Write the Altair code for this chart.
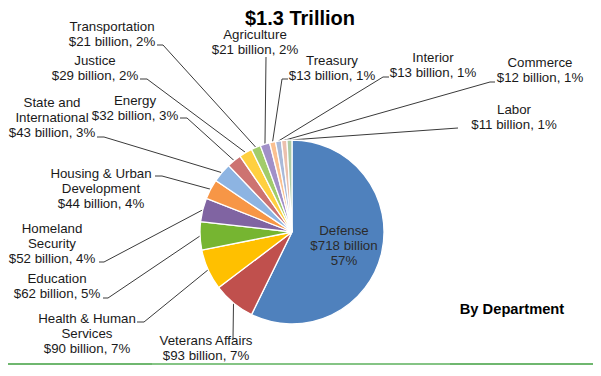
import math
import altair as alt
import pandas as pd

# ---------------- data ----------------
departments = ["Defense", "Veterans Affairs", "Health & Human Services", "Education",
               "Homeland Security", "Housing & Urban Development", "State and International",
               "Energy", "Justice", "Transportation", "Agriculture", "Treasury", "Interior",
               "Commerce", "Labor"]
spending_billion = [718, 93, 90, 62, 52, 44, 43, 32, 29, 21, 21, 13, 13, 12, 11]
share_percent = [57, 7, 7, 5, 4, 4, 3, 3, 2, 2, 2, 1, 1, 1, 1]
label_lines = [
    ["Defense", "$718 billion", "57%"],
    ["Veterans Affairs", "$93 billion, 7%"],
    ["Health & Human", "Services", "$90 billion, 7%"],
    ["Education", "$62 billion, 5%"],
    ["Homeland", "Security", "$52 billion, 4%"],
    ["Housing & Urban", "Development", "$44 billion, 4%"],
    ["State and", "International", "$43 billion, 3%"],
    ["Energy", "$32 billion, 3%"],
    ["Justice", "$29 billion, 2%"],
    ["Transportation", "$21 billion, 2%"],
    ["Agriculture", "$21 billion, 2%"],
    ["Treasury", "$13 billion, 1%"],
    ["Interior", "$13 billion, 1%"],
    ["Commerce", "$12 billion, 1%"],
    ["Labor", "$11 billion, 1%"],
]
slice_colors = ["#4F81BD", "#C0504D", "#FFC000", "#76B531", "#8064A2", "#F79646",
                "#8DB4E2", "#CD7371", "#FFD040", "#A2CC6A", "#A190C8", "#FAC090",
                "#A9B9D9", "#EBC0AE", "#ADCBA4"]
title_text = "$1.3 Trillion"
subtitle_text = "By Department"

# ---------------- layout (page pixels) ----------------
W, H = 585, 360
OFF = 8
CX, CY, R = 292, 232, 92
label_cx = [344, 206, 87, 57, 52, 101, 52, 135, 95, 112, 255, 332, 433, 540, 514]
label_y0 = [235, 345, 323, 283, 233, 178, 107, 105, 65, 31, 39, 65, 62, 67, 114]
line_gap = 14.8
leader_start = [
    [],
    [(233, 339)],
    [(137, 322), (144, 322)],
    [(103, 298), (108, 298)],
    [(99, 262), (104, 262)],
    [(155, 176), (162, 176)],
    [(97, 137), (104, 137)],
    [(180, 118), (187, 118)],
    [(140, 79), (147, 79)],
    [(157, 45), (163, 45)],
    [(266, 57)],
    [(288, 79), (282, 79)],
    [(389, 77), (383, 77)],
    [(495, 82), (490, 82)],
    [(458, 128)],
]

# ---------------- tables ----------------
pie_df = pd.DataFrame({"dept": departments, "value": spending_billion,
                       "idx": list(range(len(departments)))})

total = sum(spending_billion)
text_rows, line_rows = [], []
cum = 0
for i, d in enumerate(departments):
    mid = (cum + spending_billion[i] / 2) / total * 2 * math.pi
    cum += spending_billion[i]
    for k, t in enumerate(label_lines[i]):
        text_rows.append({"text": t, "x": label_cx[i], "y": label_y0[i] + k * line_gap,
                          "c": "#2b2b2b" if i == 0 else "#1a1a1a"})
    pts = leader_start[i]
    if pts:
        ex = CX + R * math.sin(mid)
        ey = CY - R * math.cos(mid)
        for s, (px, py) in enumerate(pts + [(ex, ey)]):
            line_rows.append({"dept": d, "seq": s, "x": px, "y": py})
text_df = pd.DataFrame(text_rows)
line_df = pd.DataFrame(line_rows)

xs = alt.Scale(domain=[OFF, OFF + W], range=[0, W], nice=False, zero=False)
ys = alt.Scale(domain=[OFF, OFF + H], range=[0, H], nice=False, zero=False)

pie = alt.Chart(pie_df).mark_arc(outerRadius=R, stroke="white", strokeWidth=1.3).encode(
    theta=alt.Theta("value:Q", stack=True),
    order=alt.Order("idx:Q"),
    color=alt.Color("dept:N", scale=alt.Scale(domain=departments, range=slice_colors), legend=None),
    x=alt.value(CX - OFF),
    y=alt.value(CY - OFF),
)

leaders = alt.Chart(line_df).mark_line(color="#3a3a3a", strokeWidth=1).encode(
    x=alt.X("x:Q", scale=xs, axis=None),
    y=alt.Y("y:Q", scale=ys, axis=None),
    detail="dept:N",
    order="seq:Q",
)

labels = alt.Chart(text_df).mark_text(font="Liberation Sans", fontSize=13.3, align="center",
                                      baseline="alphabetic").encode(
    x=alt.X("x:Q", scale=xs, axis=None),
    y=alt.Y("y:Q", scale=ys, axis=None),
    text="text:N",
    color=alt.Color("c:N", scale=None),
)

head_df = pd.DataFrame({"text": [title_text, subtitle_text], "x": [300, 512], "y": [25, 314],
                        "s": [20, 14.7]})
heads = alt.Chart(head_df).mark_text(font="Liberation Sans", fontWeight="bold", align="center",
                                     baseline="alphabetic", color="#000000").encode(
    x=alt.X("x:Q", scale=xs, axis=None),
    y=alt.Y("y:Q", scale=ys, axis=None),
    text="text:N",
    size=alt.Size("s:Q", scale=None, legend=None),
)

rule_df = pd.DataFrame({"x": [8, 152], "x2": [593, 450], "y": [364, 364],
                        "c": ["#3f9f3f", "#8cc88c"]})
rules = alt.Chart(rule_df).mark_rule(strokeWidth=1.6).encode(
    x=alt.X("x:Q", scale=xs, axis=None), x2="x2:Q",
    y=alt.Y("y:Q", scale=ys, axis=None),
    color=alt.Color("c:N", scale=None),
)

chart = alt.layer(rules, leaders, pie, labels, heads).properties(
    width=W, height=H, padding=0, autosize=alt.AutoSizeParams(type="none")
).configure_view(stroke=None)

chart.save("out.html", embed_options={"renderer": "svg", "actions": False})
